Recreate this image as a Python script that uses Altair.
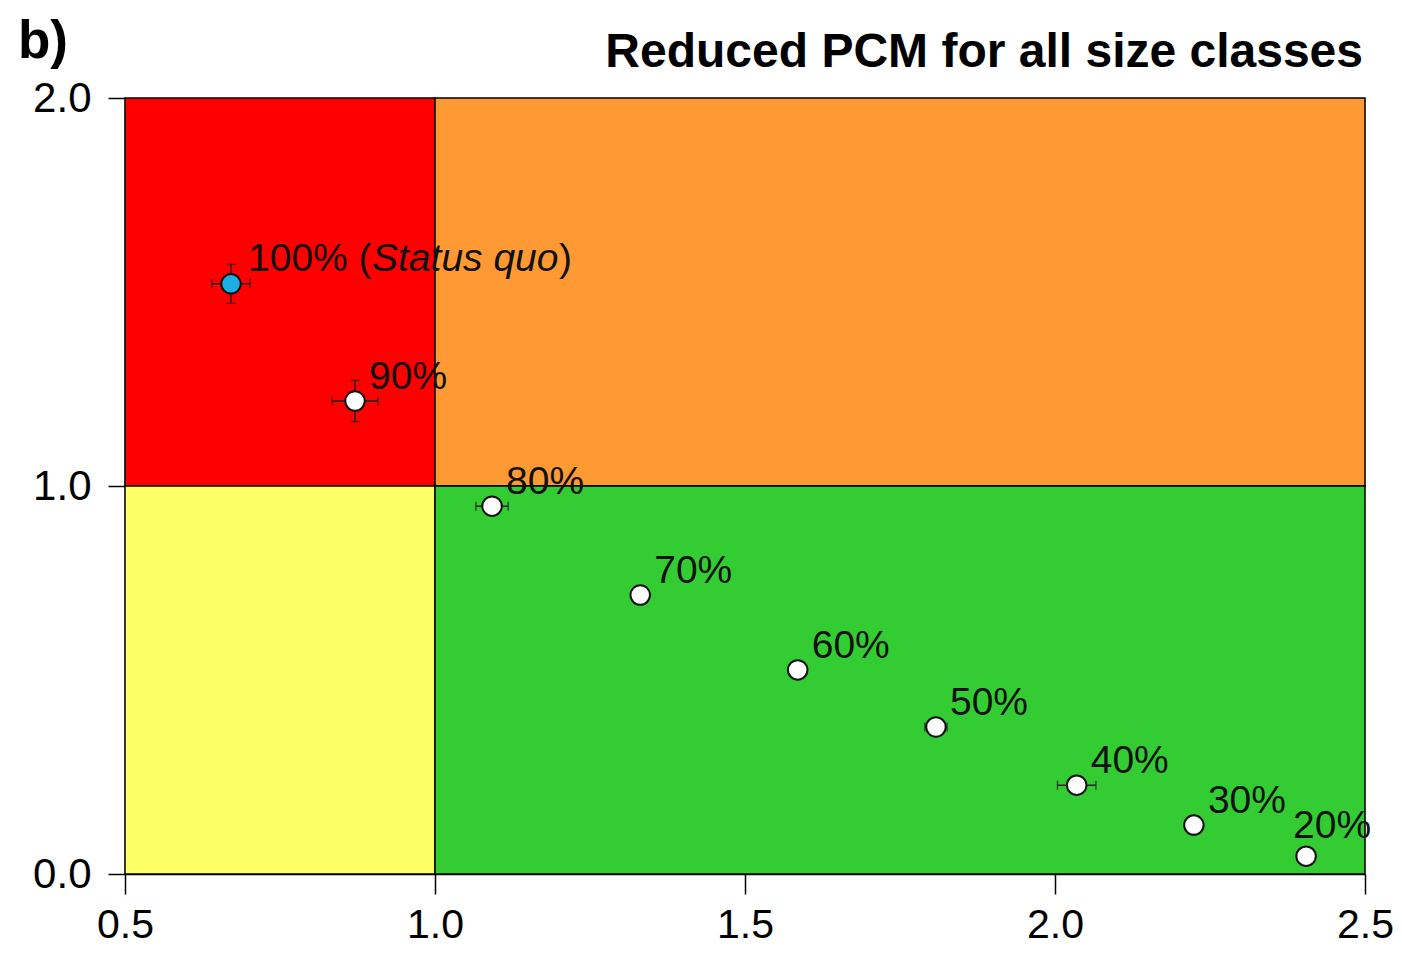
import altair as alt
import pandas as pd

# Data
labels = ["100%", "90%", "80%", "70%", "60%", "50%", "40%", "30%", "20%"]
pcm_x = [0.671, 0.871, 1.092, 1.331, 1.585, 1.808, 2.035, 2.224, 2.405]
pcm_y = [1.521, 1.219, 0.948, 0.719, 0.526, 0.379, 0.229, 0.126, 0.046]
x_err = [0.031, 0.037, 0.026, 0.0, 0.0, 0.018, 0.031, 0.0, 0.0]
y_err = [0.050, 0.053, 0.0, 0.0, 0.0, 0.0, 0.0, 0.0, 0.0]
is_status_quo = [True, False, False, False, False, False, False, False, False]

zone_x1 = [0.5, 1.0, 0.5, 1.0]
zone_x2 = [1.0, 2.5, 1.0, 2.5]
zone_y1 = [1.0, 1.0, 0.0, 0.0]
zone_y2 = [2.0, 2.0, 1.0, 1.0]
zone_color = ["#FF0000", "#FF9933", "#FFFF66", "#33CC33"]

x_ticks = [0.5, 1.0, 1.5, 2.0, 2.5]
y_ticks = [0.0, 1.0, 2.0]

title_text = "Reduced PCM for all size classes"
panel_text = "b)"

FONT = "Liberation Sans"

pts = pd.DataFrame({
    "label": labels, "x": pcm_x, "y": pcm_y, "xerr": x_err, "yerr": y_err,
    "sq": is_status_quo,
})
pts["xlo"] = pts["x"] - pts["xerr"]
pts["xhi"] = pts["x"] + pts["xerr"]
pts["ylo"] = pts["y"] - pts["yerr"]
pts["yhi"] = pts["y"] + pts["yerr"]
pts["fill"] = ["#1EAEE6" if s else "#FFFFFF" for s in is_status_quo]

zones = pd.DataFrame({"x1": zone_x1, "x2": zone_x2, "y1": zone_y1, "y2": zone_y2,
                      "c": zone_color})

xs = alt.Scale(domain=[0.5, 2.5], nice=False, zero=False)
ys = alt.Scale(domain=[0.0, 2.0], nice=False, zero=False)

xaxis = alt.Axis(values=x_ticks, format=".1f", title=None, grid=False,
                 labelFontSize=41, labelFont=FONT, labelColor="black",
                 labelFlush=False, labelOverlap=False,
                 tickColor="black", tickSize=20, tickWidth=1.5,
                 domainColor="black", domainWidth=1.5, labelPadding=11)
yaxis = alt.Axis(values=y_ticks, format=".1f", title=None, grid=False,
                 labelFontSize=42, labelFont=FONT, labelColor="black",
                 labelFlush=False, labelOverlap=False,
                 tickColor="black", tickSize=17, tickWidth=1.5,
                 domainColor="black", domainWidth=1.5, labelPadding=17)

base = alt.Chart(pts)

rects = alt.Chart(zones).mark_rect(stroke="black", strokeWidth=1.5).encode(
    x=alt.X("x1:Q", scale=xs, axis=xaxis), x2="x2:Q",
    y=alt.Y("y1:Q", scale=ys, axis=yaxis), y2="y2:Q",
    color=alt.Color("c:N", scale=None),
)

xe = base.transform_filter("datum.xerr > 0")
ye = base.transform_filter("datum.yerr > 0")

EB = "#222222"
xbar = xe.mark_rule(color=EB, strokeWidth=1.5).encode(
    x=alt.X("xlo:Q", scale=xs), x2="xhi:Q", y=alt.Y("y:Q", scale=ys))
xcap1 = xe.mark_tick(color=EB, orient="vertical", size=9, thickness=1.5).encode(
    x=alt.X("xlo:Q", scale=xs), y=alt.Y("y:Q", scale=ys))
xcap2 = xe.mark_tick(color=EB, orient="vertical", size=9, thickness=1.5).encode(
    x=alt.X("xhi:Q", scale=xs), y=alt.Y("y:Q", scale=ys))

ybar = ye.mark_rule(color=EB, strokeWidth=1.5).encode(
    x=alt.X("x:Q", scale=xs), y=alt.Y("ylo:Q", scale=ys), y2="yhi:Q")
ycap1 = ye.mark_tick(color=EB, orient="horizontal", size=9, thickness=1.5).encode(
    x=alt.X("x:Q", scale=xs), y=alt.Y("ylo:Q", scale=ys))
ycap2 = ye.mark_tick(color=EB, orient="horizontal", size=9, thickness=1.5).encode(
    x=alt.X("x:Q", scale=xs), y=alt.Y("yhi:Q", scale=ys))

points = base.mark_point(shape="circle", filled=True, size=380, stroke="#111111",
                         strokeWidth=2, opacity=1).encode(
    x=alt.X("x:Q", scale=xs), y=alt.Y("y:Q", scale=ys),
    fill=alt.Fill("fill:N", scale=None),
)

txt_kw = dict(font=FONT, fontSize=39, color="#111111", align="left", baseline="alphabetic")

normal_labels = base.transform_filter(
    "datum.label != '100%' && datum.label != '20%'").mark_text(dx=14, dy=-12, **txt_kw).encode(
    x=alt.X("x:Q", scale=xs), y=alt.Y("y:Q", scale=ys), text="label:N")

last_label = base.transform_filter("datum.label == '20%'").mark_text(
    dx=-13, dy=-18, **txt_kw).encode(
    x=alt.X("x:Q", scale=xs), y=alt.Y("y:Q", scale=ys), text="label:N")

sq = base.transform_filter("datum.sq")
sq1 = sq.mark_text(dx=17, dy=-13, **txt_kw).encode(
    x=alt.X("x:Q", scale=xs), y=alt.Y("y:Q", scale=ys),
    text=alt.value("100% ("))
sq2 = sq.mark_text(dx=141, dy=-13, fontStyle="italic", **txt_kw).encode(
    x=alt.X("x:Q", scale=xs), y=alt.Y("y:Q", scale=ys),
    text=alt.value("Status quo"))
sq3 = sq.mark_text(dx=328, dy=-13, **txt_kw).encode(
    x=alt.X("x:Q", scale=xs), y=alt.Y("y:Q", scale=ys),
    text=alt.value(")"))

title = alt.Chart(pd.DataFrame({"t": [title_text]})).mark_text(
    font=FONT, fontSize=48, fontWeight="bold", color="black", align="right",
    baseline="alphabetic").encode(x=alt.value(1238), y=alt.value(-31), text="t:N")

panel = alt.Chart(pd.DataFrame({"t": [panel_text]})).mark_text(
    font=FONT, fontSize=53, fontWeight="bold", color="black", align="left",
    baseline="alphabetic").encode(x=alt.value(-107), y=alt.value(-40), text="t:N")

chart = alt.layer(
    rects, xbar, xcap1, xcap2, ybar, ycap1, ycap2, points,
    normal_labels, last_label, sq1, sq2, sq3, title, panel,
).properties(
    width=1240, height=776,
    autosize=alt.AutoSizeParams(type="none"),
    padding={"left": 117, "top": 90, "right": 28, "bottom": 72},
).configure_view(stroke=None).configure(background="white")

chart.save("out.html", embed_options={"renderer": "svg", "actions": False})
